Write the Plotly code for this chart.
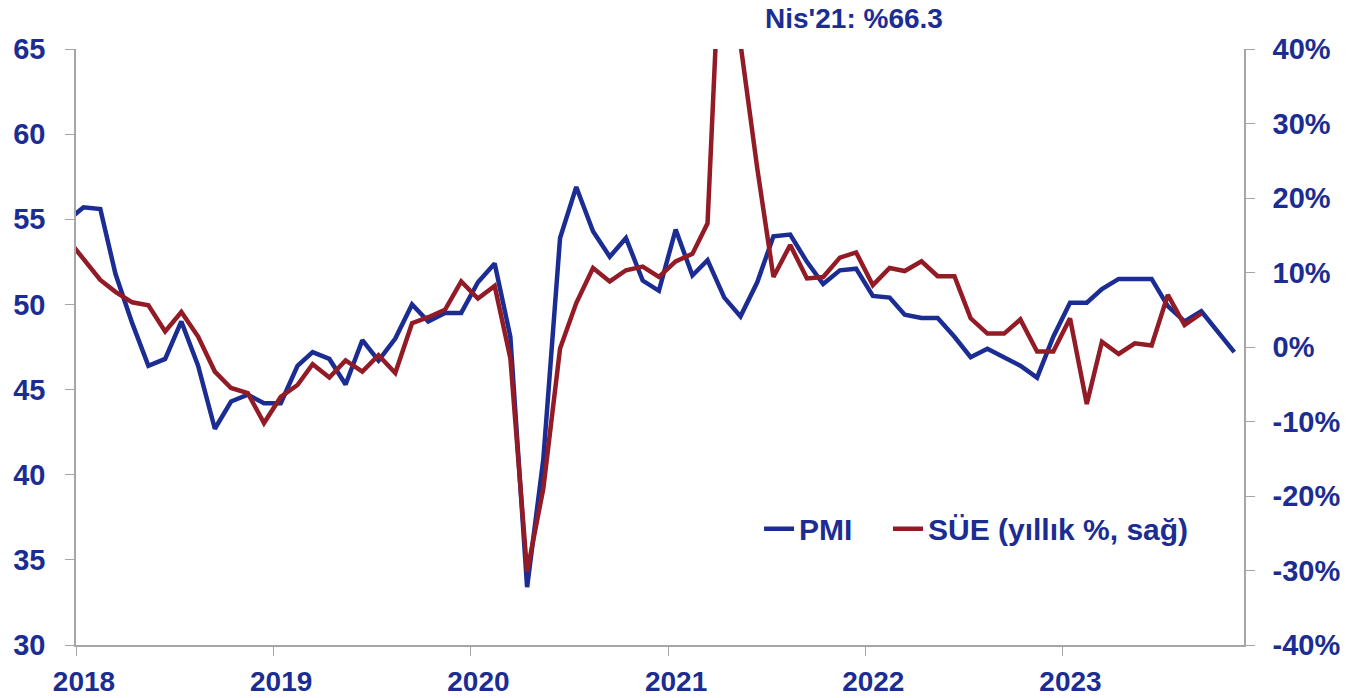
import plotly.graph_objects as go

# ---- data (monthly, Dec 2017 onwards) ----
months_pmi = [f"{y}-{m:02d}" for y in range(2017, 2024) for m in range(1, 13)]
months_pmi = months_pmi[months_pmi.index("2017-12"):months_pmi.index("2023-11") + 1]

pmi = [54.9,
       55.7, 55.6, 51.8, 48.9, 46.4, 46.8, 49.0, 46.4, 42.7, 44.3, 44.7, 44.2,
       44.2, 46.4, 47.2, 46.8, 45.3, 47.9, 46.7, 48.0, 50.0, 49.0, 49.5, 49.5,
       51.3, 52.4, 48.1, 33.4, 40.9, 53.9, 56.9, 54.3, 52.8, 53.9, 51.4, 50.8,
       54.4, 51.7, 52.6, 50.4, 49.3, 51.3, 54.0, 54.1, 52.5, 51.2, 52.0, 52.1,
       50.5, 50.4, 49.4, 49.2, 49.2, 48.1, 46.9, 47.4, 46.9, 46.4, 45.7, 48.1,
       50.1, 50.1, 50.9, 51.5, 51.5, 51.5, 49.9, 49.0, 49.6, 48.4, 47.2]

sue = [14.6,
       11.7, 9.0, 7.4, 6.0, 5.6, 2.1, 4.7, 1.4, -3.3, -5.5, -6.2, -10.2,
       -6.7, -5.1, -2.3, -4.1, -1.8, -3.3, -1.1, -3.5, 3.2, 4.0, 5.0, 8.8,
       6.5, 8.2, -1.5, -30.2, -19.0, -0.2, 5.9, 10.6, 8.8, 10.3, 10.8, 9.4,
       11.5, 12.5, 16.6, 66.3, 40.7, 24.0, 9.4, 13.7, 9.2, 9.4, 12.0, 12.7,
       8.3, 10.6, 10.2, 11.5, 9.5, 9.5, 3.85, 1.8, 1.8, 3.7, -0.6, -0.6,
       3.85, -7.65, 0.7, -0.94, 0.5, 0.2, 7.0, 2.95, 4.5]
months_sue = months_pmi[:len(sue)]

year_labels = ["2018", "2019", "2020", "2021", "2022", "2023"]
left_ticks = [30, 35, 40, 45, 50, 55, 60, 65]
right_ticks = [-40, -30, -20, -10, 0, 10, 20, 30, 40]
right_ticktext = [f"{v}%" for v in right_ticks]

BLUE = "rgb(27,45,146)"
RED = "rgb(146,27,38)"
GRAY = "#a6a6a6"
FONT = "Liberation Sans, Arial, sans-serif"

x_pmi = [m + "-15" for m in months_pmi]
x_sue = [m + "-15" for m in months_sue]

fig = go.Figure()
fig.add_trace(go.Scatter(x=x_pmi, y=pmi, name="PMI", mode="lines",
                         line=dict(color=BLUE, width=4.5), yaxis="y", legend="legend"))
fig.add_trace(go.Scatter(x=x_sue, y=sue, name="SÜE (yıllık %, sağ)", mode="lines",
                         line=dict(color=RED, width=4.5), yaxis="y2", legend="legend2"))

legend_font = dict(size=30, color=BLUE, family=FONT, weight="bold")

fig.update_layout(
    width=1354, height=698, autosize=False,
    margin=dict(l=76, r=110, t=49, b=53),
    paper_bgcolor="white", plot_bgcolor="white",
    font=dict(family=FONT, color=BLUE, size=29, weight="bold"),
    showlegend=True,
    legend=dict(orientation="h", x=0.5848, y=0.195, xanchor="left", yanchor="middle",
                font=legend_font, bgcolor="rgba(0,0,0,0)"),
    legend2=dict(orientation="h", x=0.6952, y=0.195, xanchor="left", yanchor="middle",
                 font=legend_font, bgcolor="rgba(0,0,0,0)"),
    xaxis=dict(
        type="date", range=["2018-01-01", "2023-12-03"],
        tickvals=[y + "-01-01" for y in year_labels], ticktext=year_labels,
        showgrid=False, zeroline=False, automargin=False,
        showline=True, linecolor=GRAY, linewidth=1.5,
        ticks="outside", ticklen=9, tickcolor=GRAY, tickwidth=1,
        ticklabelshift=8, ticklabelstandoff=2,
        tickfont=dict(size=28, color=BLUE, family=FONT, weight="bold"),
    ),
    yaxis=dict(
        range=[30, 65], tickvals=left_ticks,
        showgrid=False, zeroline=False, automargin=False,
        showline=True, linecolor=GRAY, linewidth=1.5,
        ticks="outside", ticklen=9, tickcolor=GRAY, tickwidth=1,
        ticklabelstandoff=14,
        tickfont=dict(size=29, color=BLUE, family=FONT, weight="bold"),
    ),
    yaxis2=dict(
        range=[-40, 40], tickvals=right_ticks, ticktext=right_ticktext,
        overlaying="y", side="right",
        showgrid=False, zeroline=False, automargin=False,
        showline=True, linecolor=GRAY, linewidth=1.5,
        ticks="outside", ticklen=9, tickcolor=GRAY, tickwidth=1,
        ticklabelstandoff=12,
        tickfont=dict(size=29, color=BLUE, family=FONT, weight="bold"),
    ),
    annotations=[dict(
        text="Nis'21: %66.3", xref="paper", yref="paper",
        x=0.666, y=1.0515, xanchor="center", yanchor="middle", showarrow=False,
        font=dict(size=28, color=BLUE, family=FONT, weight="bold"),
    )],
)

fig.write_html(
    "out.html",
    config={"responsive": False, "displayModeBar": False},
    post_script="document.body.style.margin='0';document.body.style.overflow='hidden';",
)
